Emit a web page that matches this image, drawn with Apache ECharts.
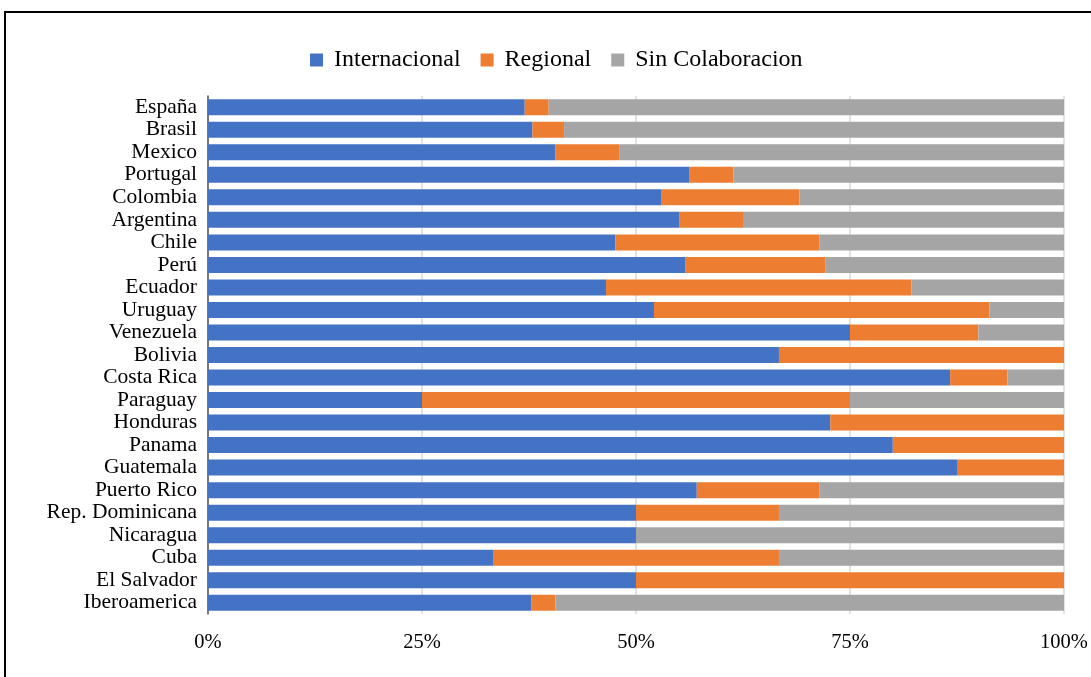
<!DOCTYPE html>
<html><head><meta charset="utf-8">
<script src="https://cdn.jsdelivr.net/npm/echarts@6/dist/echarts.min.js"></script>
<style>
html,body{margin:0;padding:0;background:#fff;}
#frame{position:absolute;left:4px;top:11px;width:1100px;height:700px;border-top:2px solid #000;border-left:2px solid #000;}
#chart{position:absolute;left:0;top:0;width:1091px;height:677px;}
</style></head>
<body>
<div id="frame"></div>
<div id="chart"></div>
<script>
const categories = ['España','Brasil','Mexico','Portugal','Colombia','Argentina','Chile','Perú','Ecuador','Uruguay','Venezuela','Bolivia','Costa Rica','Paraguay','Honduras','Panama','Guatemala','Puerto Rico','Rep. Dominicana','Nicaragua','Cuba','El Salvador','Iberoamerica'];
const internacional = [37.0,37.9,40.6,56.2,53.0,55.1,47.6,55.8,46.5,52.1,75.0,66.7,86.7,25.0,72.7,80.0,87.5,57.1,50.0,50.0,33.3,50.0,37.8];
const regional      = [2.8,3.7,7.5,5.2,16.1,7.4,23.8,16.3,35.7,39.2,15.0,33.3,6.7,50.0,27.3,20.0,12.5,14.3,16.7,0,33.4,50.0,2.8];
const sinColab      = [60.2,58.4,51.9,38.6,30.9,37.5,28.6,27.9,17.8,8.7,10.0,0,6.6,25.0,0,0,0,28.6,33.3,50.0,33.3,0,59.4];
const xTicks = [0,25,50,75,100];

const font = 'Liberation Serif, Times New Roman, serif';
const chart = echarts.init(document.getElementById('chart'));
const mk = (name, data, color) => ({
  name, type:'bar', stack:'total', data, barWidth:16,
  itemStyle:{color}, emphasis:{disabled:true}
});
chart.setOption({
  animation:false,
  textStyle:{fontFamily:font, color:'#000'},
  legend:{
    top:43, left:305, itemWidth:13, itemHeight:13, itemGap:20,
    icon:'rect',
    textStyle:{fontFamily:font, fontSize:24, color:'#000', padding:[0,0,0,6]},
    data:['Internacional','Regional','Sin Colaboracion']
  },
  grid:{left:208, right:27, top:96, bottom:63, containLabel:false},
  xAxis:{
    type:'value', min:0, max:100, interval:25,
    axisLine:{show:false}, axisTick:{show:false},
    splitLine:{show:true, lineStyle:{color:'#d9d9d9', width:1.5}},
    axisLabel:{formatter:v=>v+'%', fontFamily:font, fontSize:20.5, color:'#000', margin:18,
      customValues: xTicks}
  },
  yAxis:{
    type:'category', data:categories, inverse:true,
    axisLine:{show:true, lineStyle:{color:'#555', width:1.5}},
    axisTick:{show:false},
    axisLabel:{interval:0, fontFamily:font, fontSize:21.5, color:'#000', margin:11}
  },
  series:[
    mk('Internacional', internacional, '#4472C4'),
    mk('Regional', regional, '#ED7D31'),
    mk('Sin Colaboracion', sinColab, '#A5A5A5')
  ]
});
</script>
</body></html>
